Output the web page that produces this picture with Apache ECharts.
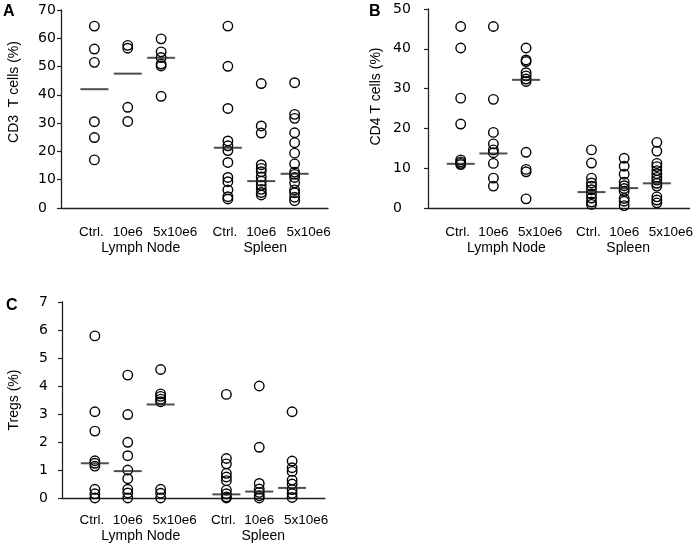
<!DOCTYPE html>
<html><head><meta charset="utf-8">
<script src="https://cdn.jsdelivr.net/npm/echarts@6/dist/echarts.min.js"></script>
<style>html,body{margin:0;padding:0;background:#fff}#c{width:696px;height:544px}</style>
</head><body><div id="c"></div>
<script>
// ---- categories & labels ----
const categories = ['', 'Ctrl.', '10e6', '5x10e6', '', 'Ctrl.', '10e6', '5x10e6', ''];
const groupNames = ['Lymph Node', 'Spleen'];
const groupLabelCategory = [2, 6];
const panelLetters = ['A', 'B', 'C'];
const yTitles = ['CD3  T cells (%)', 'CD4 T cells (%)', 'Tregs (%)'];

// ---- y tick labels ----
const cd3Ticks = [0, 10, 20, 30, 40, 50, 60, 70];
const cd4Ticks = [0, 10, 20, 30, 40, 50];
const tregTicks = [0, 1, 2, 3, 4, 5, 6, 7];

// ---- Panel A: CD3 T cells (%) ----
const cd3LNCtrl = [64.3, 56.2, 51.5, 30.5, 24.9, 17.0];
const cd3LN10e6 = [57.5, 56.5, 35.6, 30.6];
const cd3LN5x = [59.8, 55.2, 53.2, 50.9, 50.2, 39.5];
const cd3SPCtrl = [64.3, 50.1, 35.2, 23.7, 22.0, 20.3, 16.1, 10.8, 9.3, 6.4, 4.0, 3.2];
const cd3SP10e6 = [44.0, 29.0, 26.5, 15.3, 14.0, 12.8, 11.0, 9.5, 8.0, 6.6, 5.5, 4.6];
const cd3SP5x = [44.3, 33.1, 31.7, 26.6, 23.1, 19.4, 15.6, 12.7, 11.9, 10.8, 8.9, 6.4, 5.4, 3.8, 2.6];
const cd3Medians = [42.0, 47.5, 53.1, 21.3, 9.5, 12.1];

// ---- Panel B: CD4 T cells (%) ----
const cd4LNCtrl = [45.6, 40.2, 27.6, 21.1, 12.1, 11.6, 11.2, 10.9];
const cd4LN10e6 = [45.6, 27.3, 19.0, 16.1, 14.6, 13.9, 11.2, 7.5, 5.5];
const cd4LN5x = [40.2, 37.2, 36.8, 34.0, 33.2, 32.4, 31.8, 14.0, 9.7, 9.1, 2.3];
const cd4SPCtrl = [14.6, 11.3, 7.5, 6.3, 5.5, 4.6, 3.5, 2.5, 1.5, 0.9];
const cd4SP10e6 = [12.5, 10.5, 8.5, 6.5, 5.6, 4.9, 4.2, 2.4, 1.7, 0.6];
const cd4SP5x = [16.5, 14.3, 11.2, 10.4, 9.4, 8.6, 7.7, 7.0, 6.2, 5.5, 2.8, 2.0, 1.3];
const cd4Medians = [11.1, 13.7, 32.2, 4.0, 5.0, 6.2];

// ---- Panel C: Tregs (%) ----
const tregLNCtrl = [5.79, 3.08, 2.39, 1.33, 1.24, 1.14, 0.31, 0.15, 0];
const tregLN10e6 = [4.39, 2.98, 1.99, 1.51, 1.0, 0.69, 0.31, 0.18, 0];
const tregLN5x = [4.59, 3.72, 3.63, 3.53, 3.44, 0.31, 0.17, 0];
const tregSPCtrl = [3.70, 1.41, 1.22, 0.88, 0.75, 0.62, 0.28, 0.15, 0.04, 0];
const tregSP10e6 = [4.0, 1.81, 0.52, 0.32, 0.2, 0.08, 0];
const tregSP5x = [3.08, 1.32, 1.08, 0.95, 0.64, 0.5, 0.3, 0.16, 0.02];
const tregMedians = [1.24, 0.96, 3.34, 0.13, 0.23, 0.36];

const panels = [
  { groups: [cd3LNCtrl, cd3LN10e6, cd3LN5x, cd3SPCtrl, cd3SP10e6, cd3SP5x], medians: cd3Medians, ticks: cd3Ticks },
  { groups: [cd4LNCtrl, cd4LN10e6, cd4LN5x, cd4SPCtrl, cd4SP10e6, cd4SP5x], medians: cd4Medians, ticks: cd4Ticks },
  { groups: [tregLNCtrl, tregLN10e6, tregLN5x, tregSPCtrl, tregSP10e6, tregSP5x], medians: tregMedians, ticks: tregTicks }
];

// layout
const grids = [
  { left: 61, top: 10, width: 267, height: 198 },
  { left: 428, top: 9, width: 264, height: 199 },
  { left: 62, top: 302, width: 263, height: 196 }
];
const yLabelMargin = [23, 35, 23];
const xLabelMargin = [16, 16, 14];
const nameGaps = [40, 45, 41];
const nameShift = [34, 24, 0];
const letterPos = [{ left: 3, top: 4 }, { left: 369, top: 4 }, { left: 6, top: 298 }];

const slotIdx = categories.map((c, i) => (c ? i : -1)).filter(i => i >= 0);
const styleKey = { 'Ctrl.': 'ct', '10e6': 'te', '5x10e6': 'fx' };
const txt = { fontFamily: 'Liberation Sans, Arial', fontSize: 13.5, color: '#000', lineHeight: 16 };
const gtxt = { fontFamily: 'Liberation Sans, Arial', fontSize: 14, color: '#000', lineHeight: 16 };

function xLabel(v, i) {
  let s = v ? '{' + styleKey[v] + '|' + v + '}' : '';
  const g = groupLabelCategory.indexOf(i);
  if (g >= 0) s += '\n{g' + g + '|' + groupNames[g] + '}';
  return s;
}

const option = {
  backgroundColor: '#fff',
  animation: false,
  title: panelLetters.map((t, k) => Object.assign({
    text: t, padding: 0,
    textStyle: { fontFamily: 'Liberation Sans, Arial', fontSize: 16, fontWeight: 'bold', color: '#000' }
  }, letterPos[k])),
  grid: grids,
  xAxis: grids.map((g, k) => ({
    type: 'category', gridIndex: k, data: categories, boundaryGap: false,
    axisLine: { lineStyle: { color: '#222', width: 1.3 } },
    axisTick: { show: false },
    splitLine: { show: false },
    axisLabel: {
      interval: 0, margin: xLabelMargin[k], formatter: xLabel,
      rich: {
        ct: Object.assign({ padding: [0, 6, 0, 0] }, txt),
        te: Object.assign({}, txt),
        fx: Object.assign({ padding: [0, 0, 0, 28] }, txt),
        g0: Object.assign({ padding: [0, 0, 0, 26] }, gtxt),
        g1: Object.assign({ padding: [0, 0, 0, 8] }, gtxt)
      }
    }
  })),
  yAxis: panels.map((p, k) => ({
    type: 'value', gridIndex: k,
    min: p.ticks[0], max: p.ticks[p.ticks.length - 1], interval: p.ticks[1] - p.ticks[0],
    name: yTitles[k], nameLocation: 'middle', nameGap: nameGaps[k],
    nameTextStyle: { fontFamily: 'Liberation Sans, Arial', fontSize: 14, color: '#000', padding: [0, 0, 0, nameShift[k]] },
    axisLine: { show: true, lineStyle: { color: '#222', width: 1.3 } },
    axisTick: { show: true, length: 4, lineStyle: { color: '#222', width: 1.2 } },
    splitLine: { show: false },
    axisLabel: { align: 'left', margin: yLabelMargin[k], fontFamily: 'DejaVu Sans', fontSize: 14, color: '#000' }
  })),
  series: []
};

panels.forEach((p, k) => {
  option.series.push({
    type: 'scatter', xAxisIndex: k, yAxisIndex: k,
    symbol: 'circle', symbolSize: 9.5, clip: false,
    itemStyle: { color: 'rgba(0,0,0,0)', borderColor: '#000', borderWidth: 1.4, opacity: 1 },
    data: p.groups.flatMap((arr, gi) => arr.map(v => [slotIdx[gi], v]))
  });
  option.series.push({
    type: 'scatter', xAxisIndex: k, yAxisIndex: k,
    symbol: 'rect', symbolSize: [28, 2], clip: false,
    itemStyle: { color: '#222' },
    data: p.medians.map((v, gi) => [slotIdx[gi], v])
  });
});

const chart = echarts.init(document.getElementById('c'), null, { renderer: 'canvas' });
chart.setOption(option);
</script>
</body></html>
